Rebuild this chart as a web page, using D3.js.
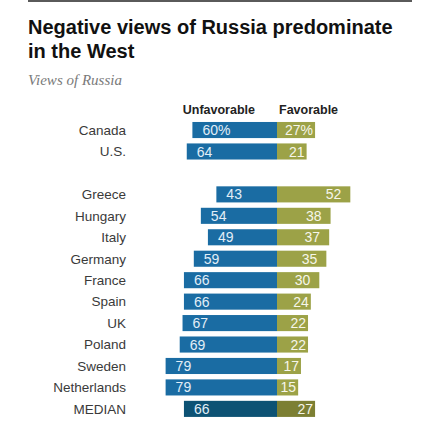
<!DOCTYPE html>
<html><head><meta charset="utf-8">
<script src="https://cdn.jsdelivr.net/npm/d3@7"></script>
<style>
body{margin:0;background:#fff;}
svg{display:block;}
</style></head>
<body>
<svg id="chart" width="447" height="431"></svg>
<script>
const countries = ["Canada","U.S.","","Greece","Hungary","Italy","Germany","France","Spain","UK","Poland","Sweden","Netherlands","MEDIAN"];
const unfavorable = [60,64,null,43,54,49,59,66,66,67,69,79,79,66];
const favorable   = [27,21,null,52,38,37,35,30,24,22,22,17,15,27];
const unfavLabels = ["60%","64","","43","54","49","59","66","66","67","69","79","79","66"];
const favLabels   = ["27%","21","","52","38","37","35","30","24","22","22","17","15","27"];

const svg = d3.select("#chart");
const font = "'Liberation Sans', Arial, sans-serif";

svg.append("rect").attr("x",28).attr("y",0).attr("width",384).attr("height",2).attr("fill","#5a5a5a");

svg.append("text").attr("x",28).attr("y",34).attr("font-family",font).attr("font-weight","bold")
  .attr("font-size",20).attr("fill","#111").text("Negative views of Russia predominate");
svg.append("text").attr("x",28).attr("y",58).attr("font-family",font).attr("font-weight","bold")
  .attr("font-size",20).attr("fill","#111").text("in the West");
svg.append("text").attr("x",28).attr("y",85).attr("font-family","'Liberation Serif', Georgia, serif")
  .attr("font-style","italic").attr("font-size",15).attr("fill","#7a7a7a").text("Views of Russia");

const center = 277;
const k = 1.41;
const x = d3.scaleLinear().domain([-100,100]).range([center-100*k, center+100*k]);
const y = d3.scaleBand().domain(d3.range(countries.length)).range([119.3, 119.3+21.45*countries.length]).paddingInner(0.25).paddingOuter(0.125);

svg.append("text").attr("x",255).attr("y",114).attr("text-anchor","end").attr("font-family",font)
  .attr("font-weight","bold").attr("font-size",12.5).attr("fill","#222").text("Unfavorable");
svg.append("text").attr("x",279).attr("y",114).attr("text-anchor","start").attr("font-family",font)
  .attr("font-weight","bold").attr("font-size",12.5).attr("fill","#222").text("Favorable");

const rows = countries.map((c,i)=>({c,i,u:unfavorable[i],f:favorable[i],ul:unfavLabels[i],fl:favLabels[i]})).filter(d=>d.u!=null);
const g = svg.append("g");
const isMed = d=>d.c==="MEDIAN";

g.selectAll("text.cat").data(rows).join("text").attr("class","cat")
  .attr("x",126).attr("y",d=>y(d.i)+y.bandwidth()/2).attr("dy","0.36em")
  .attr("text-anchor","end").attr("font-family",font).attr("font-size",13.5).attr("fill","#3a3a3a")
  .text(d=>d.c);

g.selectAll("rect.u").data(rows).join("rect").attr("class","u")
  .attr("x",d=>x(-d.u)).attr("width",d=>x(0)-x(-d.u))
  .attr("y",d=>y(d.i)).attr("height",y.bandwidth())
  .attr("fill",d=>isMed(d)?"#0d5274":"#1a6ca3");
g.selectAll("rect.f").data(rows).join("rect").attr("class","f")
  .attr("x",x(0)).attr("width",d=>x(d.f)-x(0))
  .attr("y",d=>y(d.i)).attr("height",y.bandwidth())
  .attr("fill",d=>isMed(d)?"#7c7f33":"#9ca247");

g.selectAll("text.ul").data(rows).join("text").attr("class","ul")
  .attr("x",d=>x(-d.u)+10).attr("y",d=>y(d.i)+y.bandwidth()/2).attr("dy","0.36em")
  .attr("font-family",font).attr("font-size",14).attr("fill","#e2eef7").text(d=>d.ul);
g.selectAll("text.fl").data(rows).join("text").attr("class","fl")
  .attr("x",d=>x(d.f)-(d.f>=30?9:2)).attr("y",d=>y(d.i)+y.bandwidth()/2).attr("dy","0.36em")
  .attr("text-anchor","end")
  .attr("font-family",font).attr("font-size",14).attr("fill","#f6f6ea").text(d=>d.fl);
</script>
</body></html>
